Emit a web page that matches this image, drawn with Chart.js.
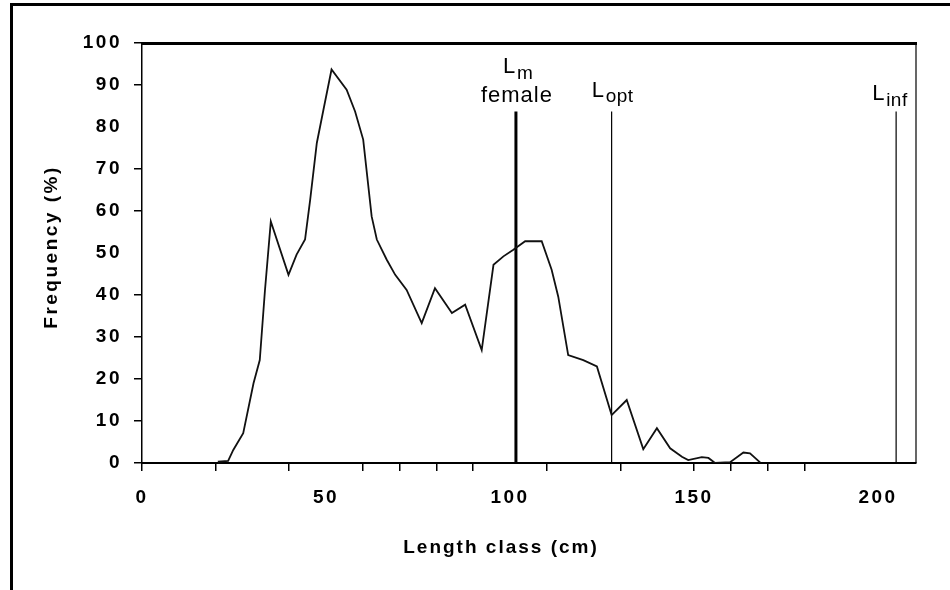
<!DOCTYPE html>
<html>
<head>
<meta charset="utf-8">
<script src="https://cdn.jsdelivr.net/npm/chart.js@4.4.1/dist/chart.umd.min.js"></script>
<style>
    html, body { margin: 0; padding: 0; background: #fff; }
    body { width: 950px; height: 590px; overflow: hidden; position: relative; }
    .frame { position: absolute; left: 10px; top: 3px; width: 1000px; height: 700px; border-left: 3px solid #000; border-top: 3px solid #000; }
    #wrap { position: absolute; left: 0; top: 0; width: 950px; height: 590px; }
</style>
</head>
<body>
<div class="frame"></div>
<div id="wrap"><canvas id="lengthChart"></canvas></div>
<script>
// length frequency curve
const lengthClass = [20.6, 23.4, 24.8, 27.5, 30.3, 32.0, 33.4, 35.0, 39.8, 42.0, 44.3, 45.7, 47.5, 49.3, 51.5,
    55.6, 57.9, 60.1, 62.4, 63.8, 66.5, 68.8, 71.9, 76.0, 79.6, 84.2, 87.8, 92.3, 95.5, 98.2, 100.9, 104.1,
    108.6, 111.3, 113.1, 115.8, 119.9, 123.6, 127.6, 131.7, 136.2, 139.9, 143.5, 146.7, 148.4, 152.1, 153.9,
    155.7, 159.8, 163.4, 165.2, 168.0];
const frequency = [0.3, 0.5, 3.1, 7.1, 19, 24.5, 41, 57.5, 44.8, 49.6, 53.2, 62.7, 76.2, 84.1, 93.7,
    88.9, 83.7, 77, 58.7, 53.2, 48.4, 44.8, 41.2, 33.3, 41.6, 35.7, 37.7, 26.9, 47.2, 49.2, 50.8, 52.8,
    52.8, 46, 39.6, 25.7, 24.5, 23, 11.4, 15, 3.3, 8.3, 3.5, 1.5, 0.7, 1.4, 1.2,
    0, 0.2, 2.5, 2.3, 0.1];

// axis ticks
const xTickLabels = [0, 50, 100, 150, 200];
const xTickMarks = [0, 20, 40, 60, 70, 80, 90, 110, 130, 150, 160, 170, 180];
const yTickMarks = [0, 10, 20, 30, 40, 60, 70, 90, 100];

// reference lengths
const refPositions = [101.6, 127.6, 204.9];
const refMain = ['L', 'L', 'L'];
const refSub = ['m', 'opt', 'inf'];
const refNote = ['female', '', ''];
const refTop = 83.7;

const FAMILY = '"Liberation Sans", Arial, sans-serif';

const markColor = (list) => (c) => (c.tick && list.includes(c.tick.value) ? '#000' : 'rgba(0,0,0,0)');

const decor = {
    id: 'decor',
    beforeDraw(chart) {
        chart.ctx.letterSpacing = '2.5px';
    },
    afterDraw(chart) {
        const { ctx, chartArea: a, scales } = chart;
        ctx.save();
        ctx.strokeStyle = '#000';
        // frame: thick top, thin right
        ctx.lineWidth = 3;
        ctx.beginPath();
        ctx.moveTo(a.left - 1, a.top + 0.5);
        ctx.lineTo(a.right + 1, a.top + 0.5);
        ctx.stroke();
        ctx.lineWidth = 1.2;
        ctx.beginPath();
        ctx.moveTo(a.right, a.top);
        ctx.lineTo(a.right, a.bottom);
        ctx.stroke();

        // reference labels
        ctx.fillStyle = '#000';
        ctx.textBaseline = 'alphabetic';
        const yTop = scales.y.getPixelForValue(refTop);
        const offs = [
            { lx: -13, ly: -38, sx: 1, sy: -32, nx: 0, ny: -9 },
            { lx: -20, ly: -14, sx: -6, sy: -9 },
            { lx: -24, ly: -11, sx: -10, sy: -5 }
        ];
        refPositions.forEach((pos, i) => {
            const px = scales.x.getPixelForValue(pos);
            const o = offs[i];
            ctx.letterSpacing = '0px';
            ctx.textAlign = 'left';
            ctx.font = `22px ${FAMILY}`;
            ctx.fillText(refMain[i], px + o.lx, yTop + o.ly);
            ctx.font = `19px ${FAMILY}`;
            ctx.letterSpacing = '0.5px';
            ctx.fillText(refSub[i], px + o.sx, yTop + o.sy);
            if (refNote[i]) {
                ctx.font = `22px ${FAMILY}`;
                ctx.letterSpacing = '1px';
                ctx.textAlign = 'center';
                ctx.fillText(refNote[i], px + 1, yTop + o.ny);
            }
        });

        // axis titles
        ctx.font = `bold 19px ${FAMILY}`;
        ctx.letterSpacing = '2px';
        ctx.textAlign = 'center';
        ctx.textBaseline = 'middle';
        ctx.fillText('Length class (cm)', 501, 548);
        ctx.translate(52, 247);
        ctx.rotate(-Math.PI / 2);
        ctx.letterSpacing = '2.5px';
        ctx.fillText('Frequency (%)', 0, 0);
        ctx.restore();
        ctx.letterSpacing = '0px';
    }
};

const curve = lengthClass.map((x, i) => ({ x, y: frequency[i] }));
const refSets = refPositions.map((pos, i) => ({
    data: [{ x: pos, y: 0 }, { x: pos, y: refTop }],
    borderColor: '#000',
    borderWidth: i === 0 ? 3 : 1.2,
    pointRadius: 0
}));

new Chart(document.getElementById('lengthChart'), {
    type: 'line',
    data: {
        datasets: [
            { data: curve, borderColor: '#111', borderWidth: 1.8, pointRadius: 0, tension: 0 },
            ...refSets
        ]
    },
    options: {
        responsive: true,
        maintainAspectRatio: false,
        animation: false,
        layout: { padding: { left: 0, right: 34, top: 43, bottom: 0 } },
        plugins: { legend: { display: false }, tooltip: { enabled: false } },
        scales: {
            x: {
                type: 'linear',
                min: 0,
                max: 210.3,
                afterFit: (s) => { s.height = 127; },
                ticks: {
                    stepSize: 10,
                    autoSkip: false,
                    maxRotation: 0,
                    padding: 15,
                    color: '#000',
                    font: { family: FAMILY, size: 19, weight: 'bold' },
                    callback: (v) => (xTickLabels.includes(v) ? String(v) : '')
                },
                grid: { drawOnChartArea: false, drawTicks: true, tickLength: 8, lineWidth: 1.5, color: markColor(xTickMarks) },
                border: { color: '#000', width: 2 }
            },
            y: {
                min: 0,
                max: 100,
                afterFit: (s) => { s.width = 142; },
                ticks: {
                    stepSize: 10,
                    padding: 12,
                    color: '#000',
                    font: { family: FAMILY, size: 19, weight: 'bold' }
                },
                grid: { drawOnChartArea: false, drawTicks: true, tickLength: 8, lineWidth: 1.5, color: markColor(yTickMarks) },
                border: { color: '#000', width: 1.5 }
            }
        }
    },
    plugins: [decor]
});
</script>
</body>
</html>
